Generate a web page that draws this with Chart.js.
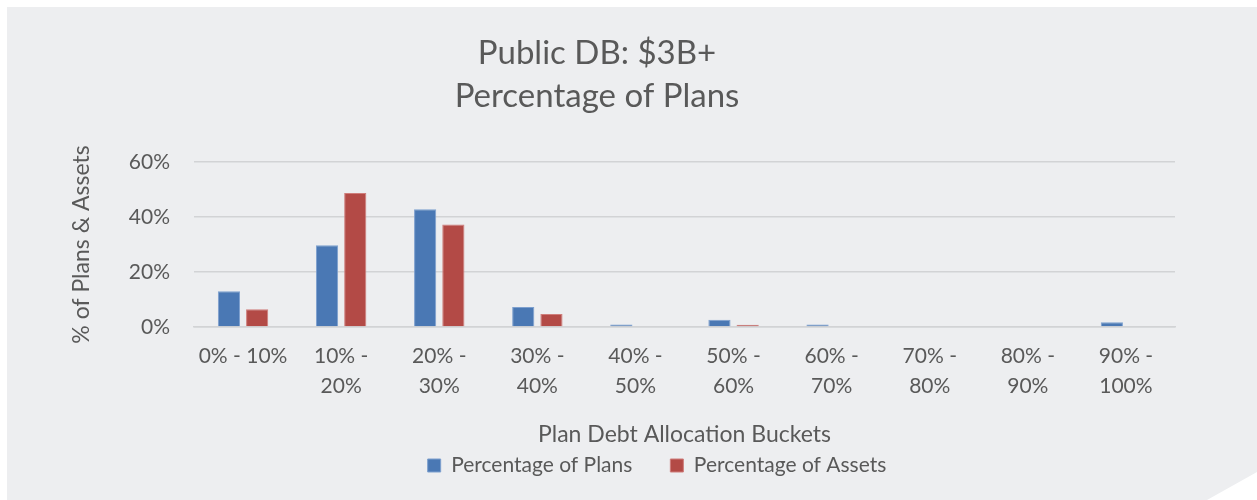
<!DOCTYPE html>
<html><head><meta charset="utf-8">
<script src="https://cdn.jsdelivr.net/npm/chart.js@4.4.1/dist/chart.umd.min.js"></script>
<style>
html,body{margin:0;padding:0;background:#fff;width:1257px;height:500px;overflow:hidden;}
#panel{position:absolute;left:0;top:0;width:1257px;height:500px;background:#edeef0;
  clip-path:polygon(7px 7px,1257px 7px,1257px 472px,1207px 500px,7px 500px);}
#wrap{position:absolute;left:57px;top:0;width:1200px;height:500px;}
</style></head><body>
<div id="panel"></div>
<div id="wrap"><canvas id="c" width="1200" height="500"></canvas></div>
<script>
const categories = [["0% - 10%"],["10% -","20%"],["20% -","30%"],["30% -","40%"],["40% -","50%"],["50% -","60%"],["60% -","70%"],["70% -","80%"],["80% -","90%"],["90% -","100%"]];
const plansPct  = [13.0, 29.7, 42.8, 7.3, 0.9, 2.6, 0.9, 0, 0, 1.7];
const assetsPct = [6.5, 48.7, 37.3, 4.7, 0, 0.8, 0, 0, 0, 0];
const seriesNames = ["Percentage of Plans","Percentage of Assets"];
const yTickValues = [0, 20, 40, 60];
const titleLines = ["Public DB: $3B+","Percentage of Plans"];
const xAxisTitle = "Plan Debt Allocation Buckets";
const yAxisTitle = "% of Plans & Assets";

const FONT = "Lato, 'Open Sans', sans-serif";
const TXT = "#595959";
const GRID = "#d2d3d5";

const titlePlugin = {
  id: 'customTitle',
  afterDraw(chart) {
    const ctx = chart.ctx;
    ctx.save();
    ctx.fillStyle = TXT;
    ctx.font = "33px " + FONT;
    ctx.textAlign = "center";
    ctx.textBaseline = "alphabetic";
    ctx.fillText(titleLines[0], 540, 64);
    ctx.fillText(titleLines[1], 540, 107);
    ctx.restore();
  }
};

new Chart(document.getElementById('c'), {
  type: 'bar',
  data: {
    labels: categories,
    datasets: [
      {label: seriesNames[0], data: plansPct, backgroundColor: '#4a78b4', borderColor: '#7d9fce', borderWidth: 1,
       categoryPercentage: 0.575, barPercentage: 0.787},
      {label: seriesNames[1], data: assetsPct, backgroundColor: '#b34a46', borderColor: '#cf7d7a', borderWidth: 1,
       categoryPercentage: 0.575, barPercentage: 0.787}
    ]
  },
  options: {
    responsive: false,
    animation: false,
    layout: {padding: {top: 162, right: 0, bottom: 14, left: 0}},
    plugins: {
      title: {display: false},
      tooltip: {enabled: false},
      legend: {
        position: 'bottom',
        labels: {color: TXT, font: {family: FONT, size: 21}, boxWidth: 13, boxHeight: 13, padding: 38}
      }
    },
    scales: {
      x: {
        grid: {display: false, drawTicks: false},
        border: {display: true, color: GRID, width: 1.5},
        ticks: {color: TXT, font: {family: FONT, size: 21, lineHeight: 1.4}, padding: 15, maxRotation: 0, autoSkip: false},
        title: {display: true, text: xAxisTitle, color: TXT, font: {family: FONT, size: 23}, padding: {top: 0, bottom: -31}},
        afterFit(scale) { scale.height = 90; }
      },
      y: {
        min: 0, max: 60,
        afterBuildTicks(scale) { scale.ticks = yTickValues.map(v => ({value: v})); },
        grid: {color: GRID, lineWidth: 1.5, drawTicks: false},
        border: {display: false},
        ticks: {color: TXT, font: {family: FONT, size: 21}, padding: 24, callback: v => v + '%'},
        title: {display: true, text: yAxisTitle, color: TXT, font: {family: FONT, size: 23}, padding: {top: 11, bottom: 0}},
        afterFit(scale) { scale.width = 137; }
      },
      yRight: {
        type: 'linear', position: 'right', min: 0, max: 60,
        grid: {display: false, drawTicks: false},
        border: {display: false},
        ticks: {display: false},
        afterFit(scale) { scale.width = 82; }
      }
    }
  },
  plugins: [titlePlugin]
});
</script>
</body></html>
